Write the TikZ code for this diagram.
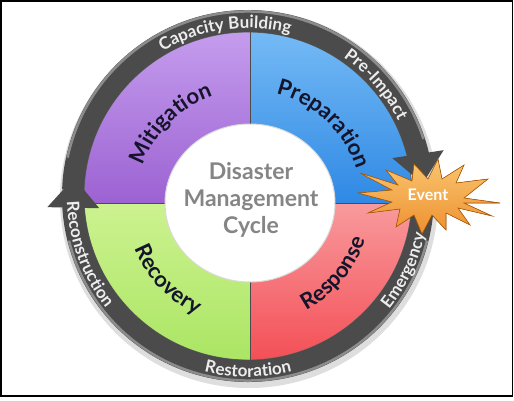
\documentclass[tikz,border=0pt]{standalone}
\usepackage{fontspec}
\setmainfont{Lato}
\usetikzlibrary{arrows.meta,bending,decorations.text,calc}

\definecolor{ringgray}{HTML}{4B4B4B}
\definecolor{ringedge}{HTML}{8C8C8C}
\definecolor{ringtxt}{HTML}{EDEDED}
\definecolor{labeltxt}{HTML}{14142A}
\definecolor{titletxt}{HTML}{858585}
\definecolor{mitigtop}{HTML}{CBA6F2}
\definecolor{mitigbot}{HTML}{9C62D2}
\definecolor{preptop}{HTML}{80C2F8}
\definecolor{prepbot}{HTML}{2F89E4}
\definecolor{recovtop}{HTML}{CCF290}
\definecolor{recovbot}{HTML}{A2E257}
\definecolor{resptop}{HTML}{F89A9D}
\definecolor{respbot}{HTML}{F23B43}
\definecolor{startop}{HTML}{F9C670}
\definecolor{starbot}{HTML}{EE9030}

\tikzset{
  ringline/.style={line width=22pt, draw=ringgray, -{Triangle[width=50pt,length=30pt]}},
  ringtext/.style={decorate, decoration={text along path, text align=center,
      text color=ringtxt, text={|\bfseries\fontsize{17}{17}\selectfont|#1}}},
  quadtext/.style={decorate, decoration={text along path, text align=center,
      text color=labeltxt, text={|\bfseries\fontsize{22}{22}\selectfont|#1}}},
}

\begin{document}
\begin{tikzpicture}[x=1pt,y=1pt]
  \useasboundingbox (0,0) rectangle (514,400);
  \fill[white] (0,0) rectangle (514,400);
  \draw[line width=1.6pt] (1,4) rectangle (512.5,399);

  \coordinate (c) at (248,204);   % ring centre
  \coordinate (q) at (250,197);   % quadrant corner
  \coordinate (evc) at (428,203); % event star

  % shadow of the ring
  \fill[black!13] ($(c)+(1,-3)$) circle (189);

  % four phases
  \begin{scope}
    \clip (c) circle (164);
    \fill[top color=mitigtop, bottom color=mitigbot] (q) rectangle ++(-200,200);
    \fill[top color=preptop, bottom color=prepbot] (q) rectangle ++(200,200);
    \fill[top color=recovtop, bottom color=recovbot] (q) rectangle ++(-200,-200);
    \fill[top color=resptop, bottom color=respbot] (q) rectangle ++(200,-200);
    \draw[black!70, line width=0.8pt] ($(q)+(0,-200)$) -- ($(q)+(0,200)$);
    \draw[black!70, line width=0.8pt] ($(q)+(-200,0)$) -- ($(q)+(200,0)$);
  \end{scope}
  \draw[black!60, line width=0.8pt] (c) circle (164);

  % centre disc
  \fill[white] (q) ellipse [x radius=85, y radius=79];
  \draw[black!15, line width=1pt] (q) ellipse [x radius=85, y radius=79];
  \node[text=titletxt, align=center, font=\bfseries\fontsize{23}{27}\selectfont]
    (title) at (251,200) {Disaster\\Management\\Cycle};

  % phase labels
  \path[quadtext={Mitigation}] ($(q)+(175:113)$) arc[start angle=175, end angle=95, radius=113];
  \path[quadtext={Preparation}] ($(q)+(87:112)$) arc[start angle=87, end angle=7, radius=112];
  \path[quadtext={Recovery}] ($(q)+(183:124)$) arc[start angle=183, end angle=263, radius=124];
  \path[quadtext={Response}] ($(q)+(-80:121)$) arc[start angle=-80, end angle=0, radius=121];

  % the ring with its two arrows
  \draw[ringline] ($(c)+(178:175)$) arc[start angle=178, end angle=4, radius=175];
  \draw[ringline] ($(c)+(-6:175)$) arc[start angle=-6, end angle=-186, radius=175];
  \draw[ringedge, line width=2.5pt] ($(c)+(168:184.5)$) arc[start angle=168, end angle=18, radius=184.5];
  \draw[ringedge, line width=2.5pt] ($(c)+(-14:184.5)$) arc[start angle=-14, end angle=-166, radius=184.5];

  % ring labels
  \path[ringtext={Capacity Building}] ($(c)+(130:168)$) arc[start angle=130, end angle=66, radius=168];
  \path[ringtext={Pre-Impact}] ($(c)+(73:168)$) arc[start angle=73, end angle=9, radius=168];
  \path[ringtext={Emergency}] ($(c)+(-58:181)$) arc[start angle=-58, end angle=7, radius=181];
  \path[ringtext={Restoration}] ($(c)+(-122:181)$) arc[start angle=-122, end angle=-58, radius=181];
  \path[ringtext={Reconstruction}] ($(c)+(162:181)$) arc[start angle=162, end angle=238, radius=181];

  % event star
  \begin{scope}[shift={(evc)}]
    \filldraw[draw=orange!70!black, line width=0.6pt, top color=startop, bottom color=starbot]
      (72,-6) \foreach \p in {(36,-1),(60,18),(28,14),(36,32),(14,18),(10,38),(0,18),
        (-14,33),(-16,16),(-42,27),(-30,12),(-68,24),(-36,7),(-70,4),(-36,-5),
        (-60,-16),(-28,-12),(-32,-30),(-14,-18),(-6,-37),(4,-18),(18,-33),
        (18,-16),(42,-28),(30,-11),(64,-19),(36,-6)} { -- \p } -- cycle;
  \end{scope}
  \node[text=white, font=\bfseries\fontsize{16}{16}\selectfont] (event) at ($(evc)+(0,2)$) {Event};
\end{tikzpicture}
\end{document}
